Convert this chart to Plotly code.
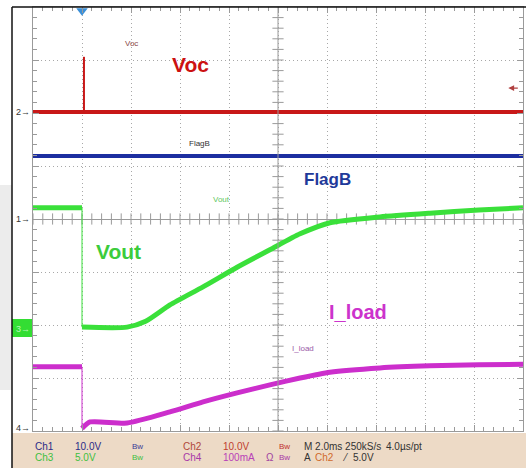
import numpy as np
import plotly.graph_objects as go

# time in ms (2 ms/div, trigger at 0); amplitude in screen divisions
voc_t = [-2.0, 18.0]
voc_y = [2.02, 2.02]
voc_spike_t = [0.08, 0.08]
voc_spike_y = [2.02, 3.06]

flag_t = [-2.0, 18.0]
flag_y = [1.19, 1.19]

vout_pre_t = [-2.0, 0.0]
vout_pre_y = [0.21, 0.21]
vout_t = [0.0, 1.84, 2.6, 3.59, 4.94, 6.33, 7.67, 8.9, 10.12, 12.16, 14.2, 16.2, 18.0]
vout_y = [-2.04, -2.04, -1.93, -1.62, -1.28, -0.91, -0.58, -0.28, -0.07, 0.04, 0.11, 0.17, 0.21]

iload_pre_t = [-2.0, 0.0]
iload_pre_y = [-2.79, -2.79]
iload_t = [0.0, 0.33, 1.84, 3.59, 4.94, 6.33, 7.67, 8.9, 10.12, 12.16, 14.2, 16.2, 18.0]
iload_y = [-3.95, -3.83, -3.85, -3.64, -3.45, -3.28, -3.13, -3.0, -2.89, -2.81, -2.77, -2.75, -2.74]

# channel ground markers (divisions)
gnd_labels = ["2", "1", "3", "4"]
gnd_levels = [2.02, 0.0, -2.07, -3.94]

# trigger level (divisions)
trig_level = 2.47

# readout strip
row1_text = ["Ch1", "10.0V", "Bw", "Ch2", "10.0V", "Bw", "M 2.0ms 250kS/s", "4.0µs/pt"]
row1_col = ["#2b2b86", "#2b2b86", "#3a3a96", "#b0483a", "#c0402e", "#c03030", "#333333", "#333333"]
row2_text = ["Ch3", "5.0V", "Bw", "Ch4", "100mA", "Ω", "Bw", "A", "Ch2", "⁄", "5.0V"]
row2_col = ["#3fbf3f", "#3fbf3f", "#3fbf3f", "#a838a8", "#b83fb8", "#a040a0", "#a838a8",
            "#333333", "#d06a2a", "#333333", "#333333"]
row1_x = [33, 73, 130, 181, 221, 277, 302, 384]
row2_x = [33, 73, 130, 181, 221, 264, 277, 302, 313, 340, 351]

RED = "#c81818"
BLUE = "#1c2ea0"
GREEN = "#3ae03a"
MAGENTA = "#cc2ecc"
GRID = "#9a9a9a"

W, H = 526, 468
L, R, T, B = 33, 3, 7, 37
PW, PH = W - L - R, H - T - B


def px_x(px):
    return (px - L) / PW


def px_y(py):
    return (H - B - py) / PH


fig = go.Figure()

# crosshair ticks on the centre lines
tx = np.arange(-2.0, 18.001, 0.4)
ty = np.arange(-4.0, 4.001, 0.2)
fig.add_trace(go.Scatter(x=tx, y=np.zeros_like(tx), mode="markers",
                         marker=dict(symbol="line-ns", size=8, line=dict(width=1, color=GRID)),
                         hoverinfo="skip", showlegend=False))
fig.add_trace(go.Scatter(x=np.full_like(ty, 8.0), y=ty, mode="markers",
                         marker=dict(symbol="line-ew", size=8, line=dict(width=1, color=GRID)),
                         hoverinfo="skip", showlegend=False))
fig.add_vline(x=8.0, line=dict(color=GRID, width=1))

# waveforms
fig.add_trace(go.Scatter(x=flag_t, y=flag_y, mode="lines", line=dict(color=BLUE, width=4),
                         hoverinfo="skip", showlegend=False))
fig.add_trace(go.Scatter(x=voc_t, y=voc_y, mode="lines", line=dict(color=RED, width=4),
                         hoverinfo="skip", showlegend=False))
fig.add_trace(go.Scatter(x=voc_spike_t, y=voc_spike_y, mode="lines", line=dict(color=RED, width=2),
                         hoverinfo="skip", showlegend=False))

for pre_t, pre_y, post_t, post_y, col in [
    (vout_pre_t, vout_pre_y, vout_t, vout_y, GREEN),
    (iload_pre_t, iload_pre_y, iload_t, iload_y, MAGENTA),
]:
    # thin edge at the trigger
    fig.add_trace(go.Scatter(x=[pre_t[-1], post_t[0]], y=[pre_y[-1], post_y[0]], mode="lines",
                             line=dict(color=col, width=1), hoverinfo="skip", showlegend=False))
    fig.add_trace(go.Scatter(x=pre_t, y=pre_y, mode="lines", line=dict(color=col, width=5),
                             hoverinfo="skip", showlegend=False))
    fig.add_trace(go.Scatter(x=post_t, y=post_y, mode="lines",
                             line=dict(color=col, width=5, shape="spline", smoothing=0.6),
                             hoverinfo="skip", showlegend=False))

# trigger position marker
fig.add_trace(go.Scatter(x=[0.0], y=[3.93], mode="markers", cliponaxis=False,
                         marker=dict(symbol="triangle-down", size=10, color="#3a8fd8"),
                         hoverinfo="skip", showlegend=False))

# frame / panels
shapes = [
    dict(type="rect", xref="paper", yref="paper", x0=px_x(12), x1=0, y0=px_y(433), y1=1,
         fillcolor="#f3f3f3", line=dict(width=0), layer="below"),
    dict(type="rect", xref="paper", yref="paper", x0=px_x(0), x1=px_x(12), y0=px_y(390), y1=px_y(185),
         fillcolor="#ececec", line=dict(width=0), layer="below"),
    dict(type="rect", xref="paper", yref="paper", x0=px_x(12), x1=px_x(W), y0=px_y(H), y1=px_y(433),
         fillcolor="#eddac6", line=dict(width=0), layer="below"),
    dict(type="rect", xref="paper", yref="paper", x0=px_x(12), x1=0, y0=px_y(337), y1=px_y(319),
         fillcolor="#33dd33", line=dict(width=0), layer="below"),
    dict(type="line", xref="paper", yref="paper", x0=px_x(12), x1=px_x(12), y0=px_y(H), y1=px_y(T),
         line=dict(color="#111111", width=1.5)),
    dict(type="line", xref="paper", yref="paper", x0=px_x(12), x1=px_x(W), y0=px_y(T), y1=px_y(T),
         line=dict(color="#111111", width=1.5)),
]

ann = []
# ground markers
for lab, lev in zip(gnd_labels, gnd_levels):
    ann.append(dict(x=-0.002, xref="paper", y=lev, yref="y", text=lab + "→", showarrow=False,
                    xanchor="right", yanchor="middle",
                    font=dict(size=9, family="Arial", color="#b8f8b8" if lab == "3" else "#333333")))

# trace labels
labels = [
    ("Voc", 2.04, 3.32, 8, "#8a4848", False),
    ("Voc", 4.41, 2.91, 21, "#cc1111", True),
    ("FlagB", 4.78, 1.42, 8, "#333333", False),
    ("FlagB", 10.04, 0.74, 17, "#1f3a9a", True),
    ("Vout", 5.71, 0.36, 8, "#5fc85f", False),
    ("Vout", 1.47, -0.62, 21, "#3ccc3c", True),
    ("I_load", 11.27, -1.75, 20, "#cc33cc", True),
    ("I_load", 9.02, -2.45, 8, "#9a5aa8", False),
]
for txt, x, y, size, col, bold in labels:
    ann.append(dict(x=x, y=y, text=f"<b>{txt}</b>" if bold else txt, showarrow=False,
                    font=dict(size=size, family="Arial", color=col)))

# trigger level arrow at the right edge
ann.append(dict(x=17.4, y=trig_level, text="", showarrow=True, ax=11, ay=0,
                arrowhead=2, arrowsize=0.9, arrowwidth=1.3, arrowcolor="#b04040"))

# readout strip
for txt, col, x in zip(row1_text, row1_col, row1_x):
    ann.append(dict(x=px_x(x), xref="paper", y=px_y(446), yref="paper", text=txt, showarrow=False,
                    xanchor="left", yanchor="middle",
                    font=dict(size=8 if txt == "Bw" else 10, family="Arial", color=col)))
for txt, col, x in zip(row2_text, row2_col, row2_x):
    ann.append(dict(x=px_x(x), xref="paper", y=px_y(457), yref="paper", text=txt, showarrow=False,
                    xanchor="left", yanchor="middle",
                    font=dict(size=8 if txt == "Bw" else 10, family="Arial", color=col)))

axis_common = dict(
    showline=True, linecolor=GRID, linewidth=1, mirror="ticks",
    ticks="inside", ticklen=6, tickcolor=GRID, showticklabels=False,
    showgrid=True, gridcolor="#a8a8a8", gridwidth=1, griddash="1px,3px",
    fixedrange=True,
)

fig.update_layout(
    width=W, height=H,
    margin=dict(l=L, r=R, t=T, b=B),
    paper_bgcolor="white", plot_bgcolor="white",
    xaxis=dict(range=[-2, 18], dtick=2, tick0=-2, zeroline=False,
               minor=dict(dtick=0.4, ticks="inside", ticklen=4, tickcolor=GRID, showgrid=False),
               **axis_common),
    yaxis=dict(range=[-4, 4], dtick=1, zeroline=True, zerolinecolor=GRID, zerolinewidth=1,
               minor=dict(dtick=0.2, ticks="inside", ticklen=4, tickcolor=GRID, showgrid=False),
               **axis_common),
    shapes=shapes,
    annotations=ann,
    showlegend=False,
)

# page body has a default 8px margin; drop it so the 526x468 figure fills the window
fig.write_html("out.html", config={"displayModeBar": False},
               post_script="document.body.style.margin='0';document.body.style.overflow='hidden';")
